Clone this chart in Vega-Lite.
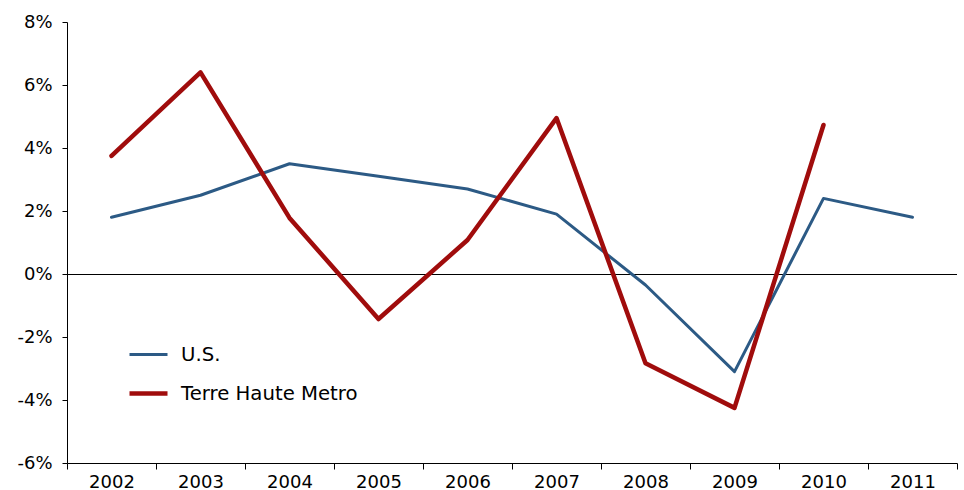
{
  "$schema": "https://vega.github.io/schema/vega-lite/v6.json",
  "autosize": "none",
  "width": 890,
  "height": 441,
  "padding": {"left": 67, "top": 22, "right": 7, "bottom": 27},
  "background": "white",
  "config": {
    "view": {"stroke": null},
    "font": "DejaVu Sans",
    "axis": {"grid": false, "domainColor": "black", "tickColor": "black", "labelColor": "black", "labelFont": "DejaVu Sans", "labelFontSize": 18, "domainWidth": 1, "tickWidth": 1}
  },
  "data": {"values": [
    {"year": "2002", "series": "U.S.", "value": 1.8},
    {"year": "2003", "series": "U.S.", "value": 2.5},
    {"year": "2004", "series": "U.S.", "value": 3.5},
    {"year": "2005", "series": "U.S.", "value": 3.1},
    {"year": "2006", "series": "U.S.", "value": 2.7},
    {"year": "2007", "series": "U.S.", "value": 1.9},
    {"year": "2008", "series": "U.S.", "value": -0.35},
    {"year": "2009", "series": "U.S.", "value": -3.1},
    {"year": "2010", "series": "U.S.", "value": 2.4},
    {"year": "2011", "series": "U.S.", "value": 1.8},
    {"year": "2002", "series": "Terre Haute Metro", "value": 3.75},
    {"year": "2003", "series": "Terre Haute Metro", "value": 6.4},
    {"year": "2004", "series": "Terre Haute Metro", "value": 1.78},
    {"year": "2005", "series": "Terre Haute Metro", "value": -1.43},
    {"year": "2006", "series": "Terre Haute Metro", "value": 1.08},
    {"year": "2007", "series": "Terre Haute Metro", "value": 4.95},
    {"year": "2008", "series": "Terre Haute Metro", "value": -2.83},
    {"year": "2009", "series": "Terre Haute Metro", "value": -4.25},
    {"year": "2010", "series": "Terre Haute Metro", "value": 4.73}
  ]},
  "layer": [
    {
      "mark": {"type": "rule", "color": "black", "strokeWidth": 1, "yOffset": 0.5},
      "data": {"values": [{"zero": 0}]},
      "encoding": {"y": {"field": "zero", "type": "quantitative"}}
    },
    {
      "mark": {"type": "line", "strokeJoin": "round", "strokeCap": "round"},
      "encoding": {
        "x": {"field": "year", "type": "ordinal", "title": null,
              "scale": {"paddingInner": 0, "paddingOuter": 0},
              "axis": {"labelAngle": 0, "tickBand": "extent", "tickSize": 6, "labelPadding": 4, "labelFontSize": 18}},
        "y": {"field": "value", "type": "quantitative", "title": null,
              "scale": {"domain": [-6, 8], "nice": false, "zero": false},
              "axis": {"values": [-6, -4, -2, 0, 2, 4, 6, 8], "labelExpr": "datum.value + '%'", "tickSize": 5, "labelPadding": 10, "labelFontSize": 18}},
        "color": {"field": "series", "type": "nominal",
                  "scale": {"domain": ["U.S.", "Terre Haute Metro"], "range": ["#2C5A85", "#A00C0C"]},
                  "legend": {"title": null, "orient": "none", "legendX": 60, "legendY": 312, "symbolType": "stroke", "symbolSize": 1444, "symbolStrokeWidth": 4, "labelFontSize": 19.7, "labelFont": "DejaVu Sans", "labelColor": "black", "labelLimit": 400, "rowPadding": 7, "labelOffset": 11}},
        "strokeWidth": {"field": "series", "type": "nominal",
                  "scale": {"domain": ["U.S.", "Terre Haute Metro"], "range": [3, 4.5]},
                  "legend": null}
      }
    }
  ]
}
